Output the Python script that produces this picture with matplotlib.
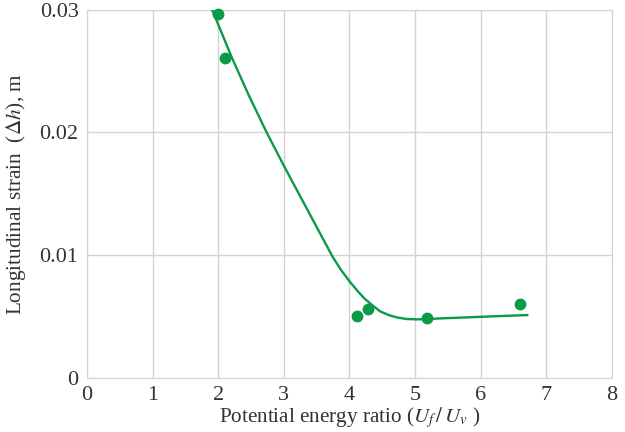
import numpy as np
import matplotlib
matplotlib.use('Agg')
from matplotlib import pyplot as plt

# measured points
pt_x = [2.00, 2.11, 4.12, 4.29, 5.18, 6.60]
pt_y = [0.0297, 0.0261, 0.0050, 0.0056, 0.0049, 0.0060]

# fitted curve
fit_x = [1.91, 2.21, 2.47, 2.74, 3.01, 3.25, 3.50, 3.74, 3.87, 4.01, 4.12, 4.22,
         4.35, 4.47, 4.60, 4.73, 4.87, 5.02, 5.20, 5.39, 5.74, 6.20, 6.71]
fit_y = [0.0300, 0.0261, 0.0230, 0.0200, 0.0172, 0.0148, 0.0123, 0.0099, 0.0088,
         0.0078, 0.0071, 0.0065, 0.0059, 0.0054, 0.0051, 0.0049, 0.00478, 0.00475,
         0.00477, 0.00483, 0.0049, 0.0050, 0.0051]

green = '#0a9a48'

plt.rcParams['font.family'] = 'Liberation Serif'
plt.rcParams['mathtext.fontset'] = 'stix'

fig = plt.figure(figsize=(6.25, 4.32), dpi=100)
ax = fig.add_axes([0.139, 0.126, 0.84, 0.851])

ax.plot(fit_x, fit_y, color=green, lw=1.7, zorder=3, solid_joinstyle='round')
ax.plot(pt_x, pt_y, 'o', color=green, ms=7.5, zorder=4, clip_on=False)

ax.set_xlim(0, 8)
ax.set_ylim(0, 0.03)
ax.set_xticks(range(0, 9))
ax.set_yticks([0, 0.01, 0.02, 0.03])
ax.set_yticklabels(['0', '0.01', '0.02', '0.03'])
ax.grid(True, color='#d3d3d3', lw=1)
ax.set_axisbelow(True)
for s in ax.spines.values():
    s.set_color('#d3d3d3')
ax.tick_params(length=0, labelsize=16, colors='#333333', pad=6)

ax.set_xlabel(r'Potential energy ratio ($U_f\,/\,U_v$ )', fontsize=15.2, color='#333333', labelpad=0)
ax.set_ylabel(r'Longitudinal strain  ($\Delta h$), m', fontsize=15.3, color='#333333', labelpad=8)

plt.savefig('out.png', dpi=100)
